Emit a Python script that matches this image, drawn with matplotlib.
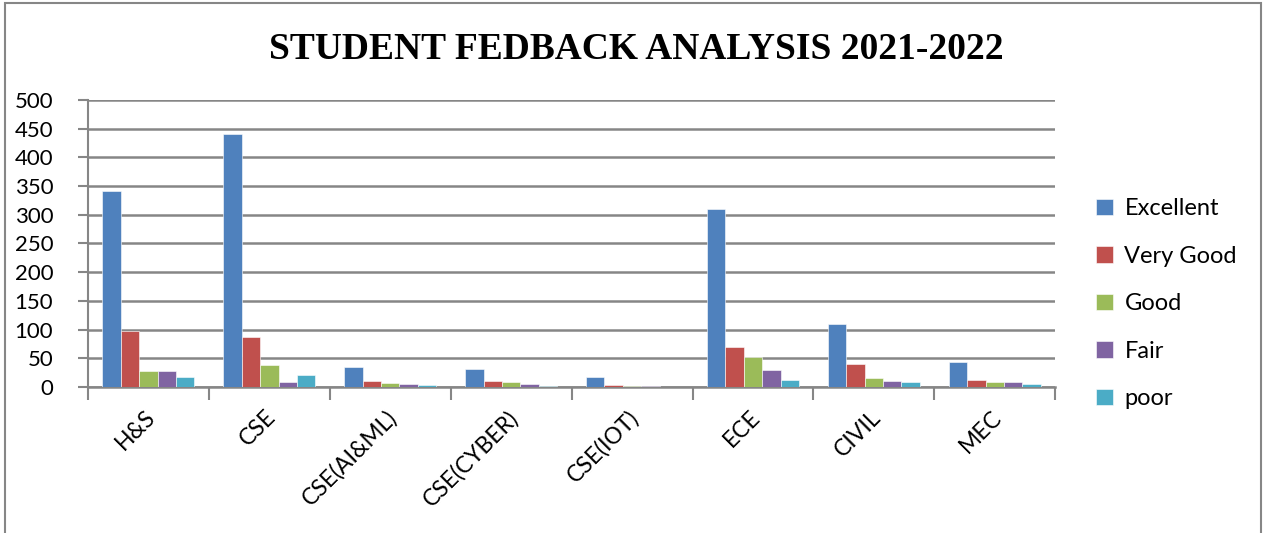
import matplotlib.pyplot as plt
import matplotlib.patches as mpatches
import matplotlib.transforms as mtransforms
import numpy as np

# Data
departments = ['H&S', 'CSE', 'CSE(AI&ML)', 'CSE(CYBER)', 'CSE(IOT)', 'ECE', 'CIVIL', 'MEC']
excellent = [341, 440, 34, 31, 17, 310, 109, 43]
very_good = [98, 87, 10, 10, 3, 69, 40, 12]
good = [28, 38, 7, 8, 1, 52, 15, 9]
fair = [28, 8, 5, 6, 1, 29, 11, 9]
poor = [18, 21, 4, 1, 0.5, 12, 8, 6]

series_names = ['Excellent', 'Very Good', 'Good', 'Fair', 'poor']
series_values = [excellent, very_good, good, fair, poor]
colors = ['#4F81BD', '#C0504D', '#9BBB59', '#8064A2', '#4BACC6']

fig = plt.figure(figsize=(12.66, 5.33), dpi=100)
ax = fig.add_axes([0.0695, 0.274, 0.764, 0.5385])

x = np.arange(len(departments))
bar_w = 0.152
for i, (name, vals) in enumerate(zip(series_names, series_values)):
    offs = (i - 2) * bar_w
    ax.bar(x + offs, vals, bar_w, color=colors[i], label=name,
           edgecolor='white', linewidth=0.4, zorder=3)

# Axes formatting (Excel 2007 style)
ax.set_xlim(-0.5, len(departments) - 0.5)
ax.set_ylim(0, 500)
ax.set_yticks(np.arange(0, 501, 50))
ax.yaxis.grid(True, color='#868686', linewidth=1.8, zorder=0)
ax.set_axisbelow(True)
for side in ['top', 'right']:
    ax.spines[side].set_visible(False)
ax.spines['left'].set_color('#868686')
ax.spines['left'].set_linewidth(1.5)
ax.spines['bottom'].set_color('#868686')
ax.spines['bottom'].set_linewidth(1.8)
ax.tick_params(axis='y', length=7, width=1.5, color='#868686', labelsize=16, pad=18)
for lbl in ax.get_yticklabels():
    lbl.set_family('Lato')

# category ticks between groups, labels at centers
ax.set_xticks(np.arange(-0.5, len(departments), 1))
ax.set_xticklabels([])
ax.set_xticks(x, minor=True)
ax.set_xticklabels(departments, minor=True, rotation=45, ha='right',
                   rotation_mode='anchor', fontsize=16.5, family='Lato')
ax.tick_params(axis='x', which='major', length=9, width=1.5, color='#868686')
ax.tick_params(axis='x', which='minor', length=0, pad=14)
shift = mtransforms.ScaledTranslation(-4 / 100, 0, fig.dpi_scale_trans)
for lbl in ax.xaxis.get_minorticklabels():
    lbl.set_transform(lbl.get_transform() + shift)

fig.text(0.503, 0.907, 'STUDENT FEDBACK ANALYSIS 2021-2022', ha='center', va='center',
         fontsize=27, fontweight='bold', family='Liberation Serif')

leg = fig.legend(loc='center left', bbox_to_anchor=(0.849, 0.43), frameon=False,
                 prop={'family': 'Lato', 'size': 17}, labelspacing=1.12,
                 handlelength=0.7, handleheight=0.7, handletextpad=0.5)

# outer chart border
fig.patches.append(mpatches.Rectangle((0.004, -0.05), 0.992, 1.044, transform=fig.transFigure,
                                      fill=False, edgecolor='#868686', linewidth=1.5))

plt.savefig('out.png', dpi=100)
